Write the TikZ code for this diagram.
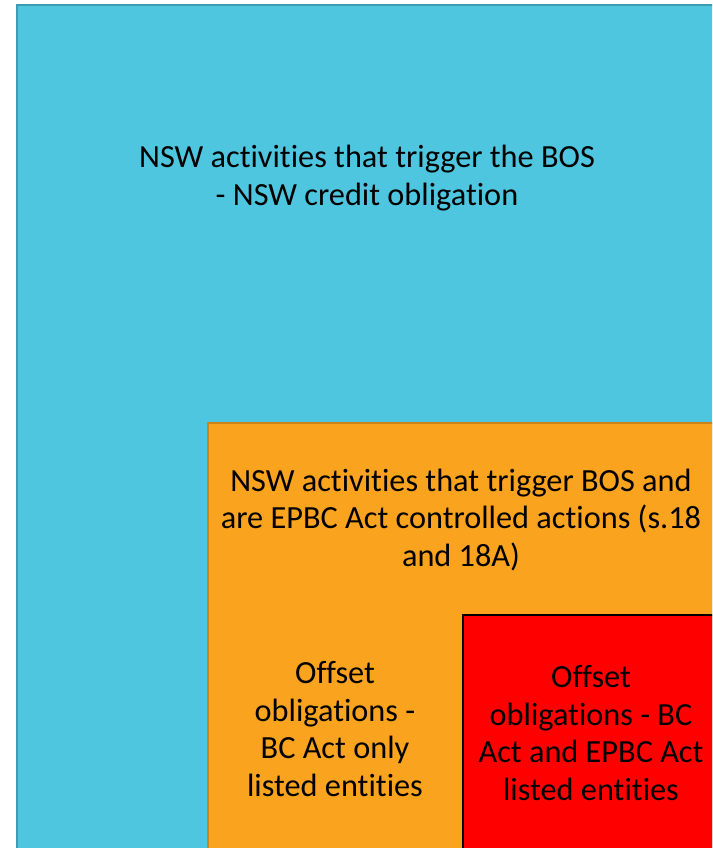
\documentclass[tikz,border=0pt]{standalone}
\usepackage{fontspec}
\setmainfont{Carlito}[RawFeature={-liga;-clig;-dlig;-calt}]
\usepackage{tikz}
\usetikzlibrary{backgrounds,calc}
\definecolor{bosblue}{HTML}{4FC6DF}
\definecolor{bosblueline}{HTML}{3B9DB4}
\definecolor{epbcorange}{HTML}{F9A31F}
\definecolor{epbcorangeline}{HTML}{CC8418}
\definecolor{listedred}{HTML}{FF0000}
\tikzset{
  boxtext/.style={align=center, text=black, inner sep=0pt, font=\fontsize{32.3}{37.5}\selectfont},
}

\begin{document}
\begin{tikzpicture}[x=1pt, y=-1pt]
\useasboundingbox (0,0) rectangle (712,848);
\clip (0,0) rectangle (712,848);
% nested regions
\draw[bosblueline, line width=2pt, fill=bosblue] (17,5) rectangle (740,880);
\draw[epbcorangeline, line width=1.5pt, fill=epbcorange] (208,423) rectangle (740,880);
\draw[black, line width=2pt, fill=listedred] (463,615) rectangle (740,880);
% labels
\node[boxtext] (nswbos) at (367,178) {NSW activities that trigger the BOS\\- NSW credit obligation};
\node[boxtext] (controlled) at (461,520) {NSW activities that trigger BOS and\\are EPBC Act controlled actions (s.18\\and 18A)};
\node[boxtext] (bconly) at (335,729) {Offset\\obligations -\\BC Act only\\listed entities};
\node[boxtext] (bcepbc) at (591,733) {Offset\\obligations - BC\\Act and EPBC Act\\listed entities};
\end{tikzpicture}
\end{document}
